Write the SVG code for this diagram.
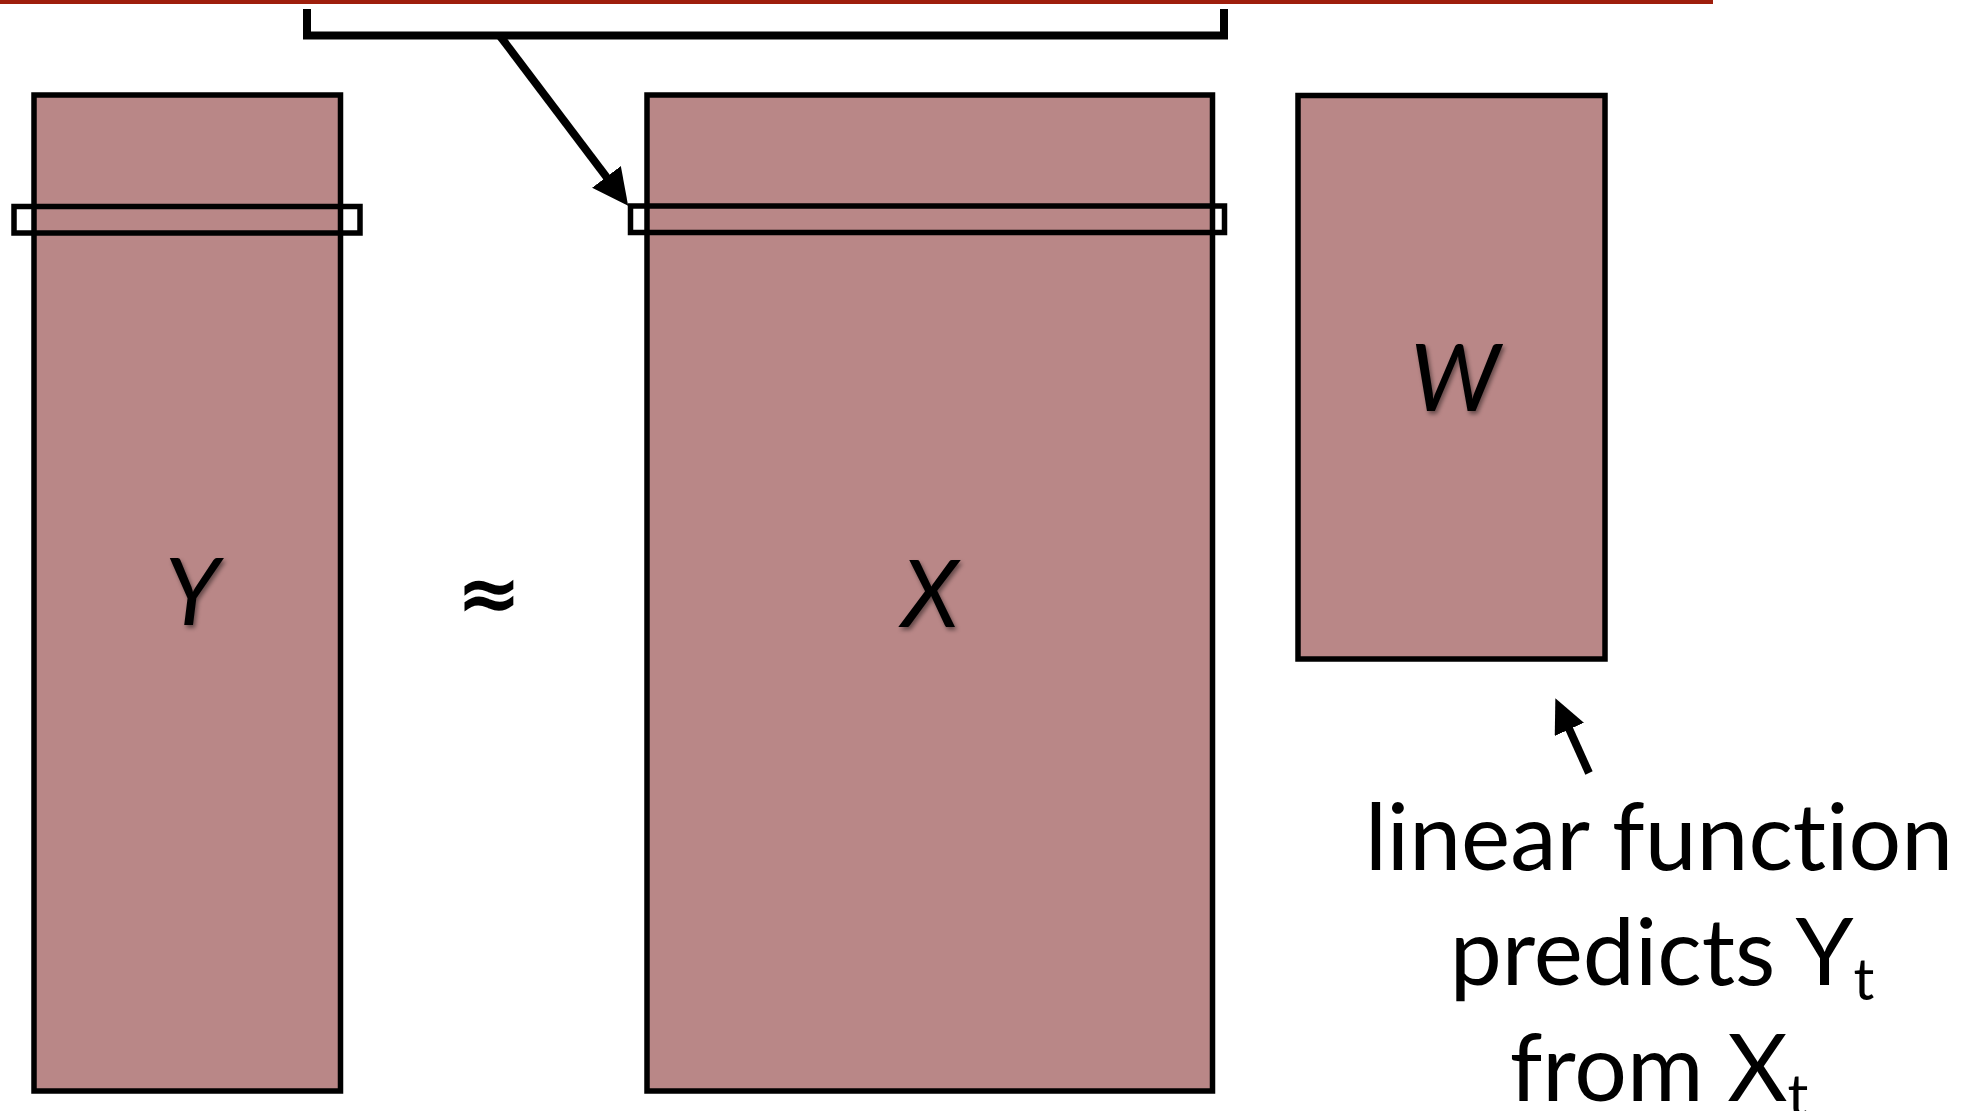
<svg xmlns="http://www.w3.org/2000/svg" width="1967" height="1111" viewBox="0 0 1967 1111">
  <style>
    .mat { fill: #B98787; stroke: #000; stroke-width: 5.5; }
    .strip { fill: none; stroke: #000; stroke-width: 5.5; }
    .lbl { font-family: Lato, "Liberation Sans", sans-serif; font-size: 94px; font-style: italic; fill: #000; text-anchor: middle; filter: url(#shadow); }
    .note { font-family: Lato, "Liberation Sans", sans-serif; font-size: 93px; fill: #000; text-anchor: middle; font-variant-ligatures: none; }
    .sym { font-family: "DejaVu Sans", sans-serif; font-size: 78px; font-weight: bold; fill: #000; text-anchor: middle; }
    .conn { fill: none; stroke: #000; stroke-width: 8; }
  </style>
  <defs>
    <filter id="shadow" x="-30%" y="-30%" width="160%" height="160%">
      <feDropShadow dx="2" dy="3" stdDeviation="2" flood-color="#000" flood-opacity="0.45"/>
    </filter>
    <marker id="headBig" markerUnits="userSpaceOnUse" markerWidth="38" markerHeight="38" refX="14" refY="18" orient="auto">
      <path d="M0,0 L36,18 L0,36 z" fill="#000"/>
    </marker>
    <marker id="headSmall" markerUnits="userSpaceOnUse" markerWidth="36" markerHeight="36" refX="12" refY="16" orient="auto">
      <path d="M0,0 L34,16 L0,32 z" fill="#000"/>
    </marker>
  </defs>
  <rect width="1967" height="1111" fill="#fff"/>
  <rect id="topRule" x="0" y="0" width="1713" height="4" fill="#9E1E0C"/>

  <g id="nodeY">
    <rect class="mat" x="34" y="95" width="306.5" height="996"/>
    <rect class="strip" x="14" y="206.5" width="346" height="26.5"/>
    <text class="lbl" x="192" y="625">Y</text>
  </g>

  <g id="approx">
    <text class="sym" x="489" y="620">≈</text>
  </g>

  <g id="nodeX">
    <rect class="mat" x="647" y="95" width="565.5" height="996"/>
    <rect class="strip" x="630.5" y="206" width="594" height="26.5"/>
    <text class="lbl" x="930" y="627">X</text>
  </g>

  <g id="nodeW">
    <rect class="mat" x="1298" y="95.5" width="307" height="563.5"/>
    <text class="lbl" x="1455" y="411">W</text>
  </g>

  <g id="caption">
    <text class="note" x="1659" y="870">linear function</text>
    <text class="note" x="1662" y="985">predicts Y<tspan font-size="58" dy="15">t</tspan></text>
    <text class="note" x="1659" y="1101">from X<tspan font-size="58" dy="15">t</tspan></text>
  </g>

  <g id="connectors">
    <polyline class="conn" points="307,9 307,35.5 1224,35.5 1224,9" stroke-width="7"/>
    <line class="conn" x1="500" y1="36" x2="614.9" y2="188.1" marker-end="url(#headBig)"/>
    <line class="conn" x1="1589" y1="773" x2="1564.4" y2="718.4" marker-end="url(#headSmall)"/>
  </g>
</svg>
